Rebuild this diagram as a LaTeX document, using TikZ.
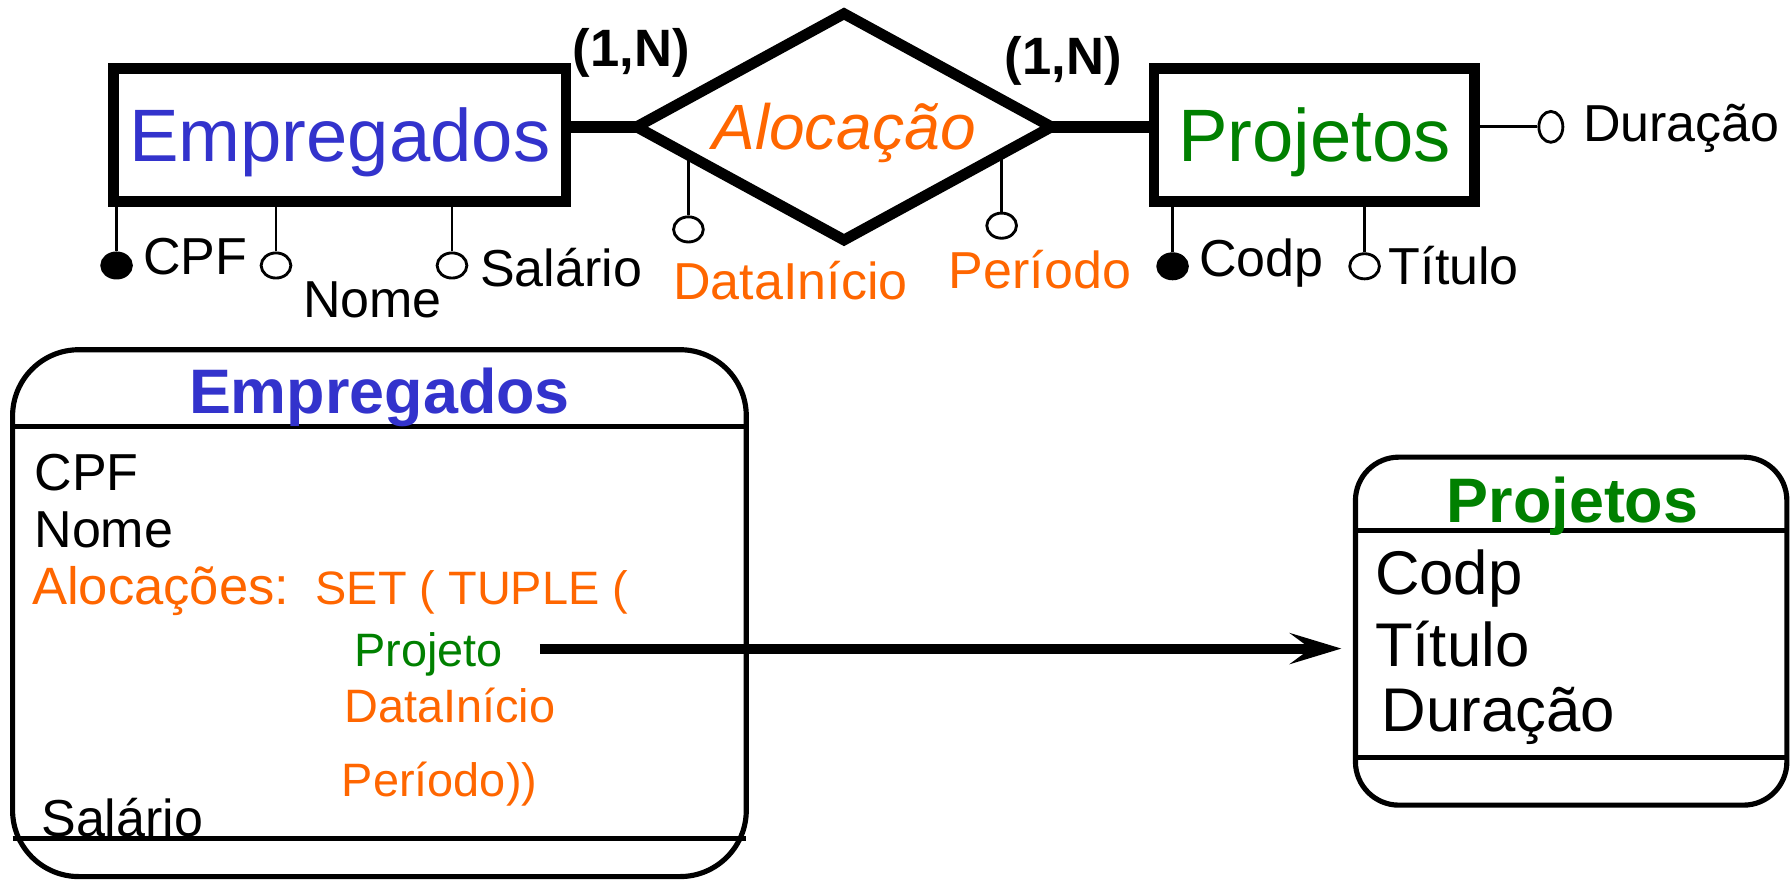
\documentclass[tikz,border=0pt]{standalone}
\usepackage{fontspec}
\setmainfont{Liberation Sans}
\usetikzlibrary{calc}
\usetikzlibrary{shapes.geometric}
\usetikzlibrary{arrows.meta}

\definecolor{empblue}{HTML}{3333CC}
\definecolor{alocorange}{HTML}{FF6600}
\definecolor{projgreen}{HTML}{008000}

\begin{document}
\begin{tikzpicture}[x=1pt,y=-1pt,
  entity/.style={draw, line width=9.5pt, inner sep=0pt, minimum height=116.5pt,
    text height=46.5pt, text depth=0pt, font=\fontsize{65}{70}\selectfont},
  relation/.style={draw, diamond, aspect=1.83, line width=9.5pt, inner sep=0pt, outer sep=0pt,
    minimum width=363pt, minimum height=198pt, text height=40pt, text depth=0pt,
    font=\fontsize{56}{60}\selectfont\itshape, text=alocorange},
  keyattr/.style={draw, ellipse, fill=black, line width=2.5pt, inner sep=0pt,
    minimum width=26pt, minimum height=22pt},
  attr/.style={keyattr, fill=white},
  stem/.style={line width=2.6pt},
  relline/.style={line width=10pt},
  lbl/.style={anchor=base west, inner sep=0pt, font=\fontsize{45.5}{50}\selectfont},
  small/.style={anchor=base west, inner sep=0pt, font=\fontsize{41}{45}\selectfont},
  big/.style={anchor=base west, inner sep=0pt, font=\fontsize{54}{58}\selectfont},
  card/.style={anchor=base west, inner sep=0pt, font=\fontsize{46}{50}\selectfont\bfseries},
  classbox/.style={draw, line width=4.5pt, inner sep=0pt},
  classtitle/.style={anchor=base, inner sep=0pt, font=\fontsize{55}{60}\selectfont\bfseries},
  sepline/.style={line width=4.5pt},
  refarrow/.style={line width=8.75pt, -{Stealth[length=45pt,width=27pt,inset=18pt]}, shorten >=10pt}]

\useasboundingbox (0,0) rectangle (1568,770);
\fill[white] (0,0) rectangle (1568,770);

% E-R diagram
\node[entity, minimum width=396pt, text=empblue] (emp) at (297.25,118) {Empregados};
\node[relation] (aloc) at (738.5,111) {Alocação};
\node[entity, minimum width=280.5pt, text=projgreen] (proj) at (1150,118) {Projetos};

\draw[relline] (emp.east |- aloc.west) -- (aloc.west);
\draw[relline] (aloc.east) -- (aloc.east -| proj.west);

\node[card] (cardemp) at (501,58.6) {(1,N)};
\node[card] (cardproj) at (879,65.6) {(1,N)};

\node[keyattr] (cpfdot) at (102,232.3) {};
\node[attr] (nomedot) at (241.5,232.3) {};
\node[attr] (saldot) at (395.5,232.3) {};
\node[keyattr] (codpdot) at (1026,233) {};
\node[attr] (titdot) at (1194,233) {};
\node[attr, minimum width=21pt, minimum height=27pt] (durdot) at (1357,111) {};

\coordinate (dinitop) at ($(aloc.west)!0.25!(aloc.south)$);
\coordinate (pertop) at ($(aloc.east)!0.24!(aloc.south)$);
\node[attr] (dinidot) at ($(dinitop)+(0,65)$) {};
\node[attr] (perdot) at ($(pertop)+(0,62.7)$) {};

\draw[stem] (cpfdot) -- (cpfdot |- emp.south);
\draw[stem] (nomedot) -- (nomedot |- emp.south);
\draw[stem] (saldot) -- (saldot |- emp.south);
\draw[stem] (codpdot) -- (codpdot |- proj.south);
\draw[stem] (titdot) -- (titdot |- proj.south);
\draw[stem] (proj.east |- durdot) -- (durdot);
\draw[stem] (dinidot) -- (dinitop);
\draw[stem] (perdot) -- (pertop);

\node[lbl] (cpflbl) at (125,240.6) {CPF};
\node[lbl] (nomelbl) at (265,278) {Nome};
\node[lbl] (sallbl) at (420,251) {Salário};
\node[lbl, text=alocorange] (dinilbl) at (589,262) {DataInício};
\node[lbl, text=alocorange] (perlbl) at (830,252) {Período};
\node[lbl] (codplbl) at (1049,242) {Codp};
\node[lbl] (titlbl) at (1215,249) {Título};
\node[lbl] (durlbl) at (1385,124) {Duração};

% object classes
\node[classbox, rounded corners=58pt, minimum width=642pt, minimum height=461pt] (empcls) at (332,536.5) {};
\draw[sepline] (11,373) -- (653,373);
\draw[sepline] (11,734) -- (653,734);
\node[classtitle, text=empblue] (empttl) at (332,362) {Empregados};
\node[lbl] (empcpf) at (30,429) {CPF};
\node[lbl] (empnome) at (30,479) {Nome};
\node[lbl, font=\fontsize{46}{50}\selectfont, text=alocorange] (empaloc) at (28,529) {Alocações:};
\node[small, text=alocorange] (empset) at (276,529) {SET ( TUPLE (};
\node[small, text=projgreen] (empproj) at (310,583) {Projeto};
\node[small, text=alocorange] (empdini) at (301,632) {DataInício};
\node[small, text=alocorange] (empper) at (299,697) {Período))};
\node[lbl] (empsal) at (36,732) {Salário};

\node[classbox, rounded corners=38pt, minimum width=377.5pt, minimum height=304.5pt] (projcls) at (1374.75,552.25) {};
\draw[sepline] (1186,464.5) -- (1563.5,464.5);
\draw[sepline] (1186,662.5) -- (1563.5,662.5);
\node[classtitle, text=projgreen] (projttl) at (1376,457) {Projetos};
\node[big] (projcodp) at (1203,520.6) {Codp};
\node[big] (projtit) at (1203,583.5) {Título};
\node[big] (projdur) at (1209,640) {Duração};

\coordinate (refstart) at ([xshift=32pt,yshift=15.5pt]empproj.base east);
\draw[refarrow] (refstart) -- (refstart -| projcls.west);

\end{tikzpicture}
\end{document}
